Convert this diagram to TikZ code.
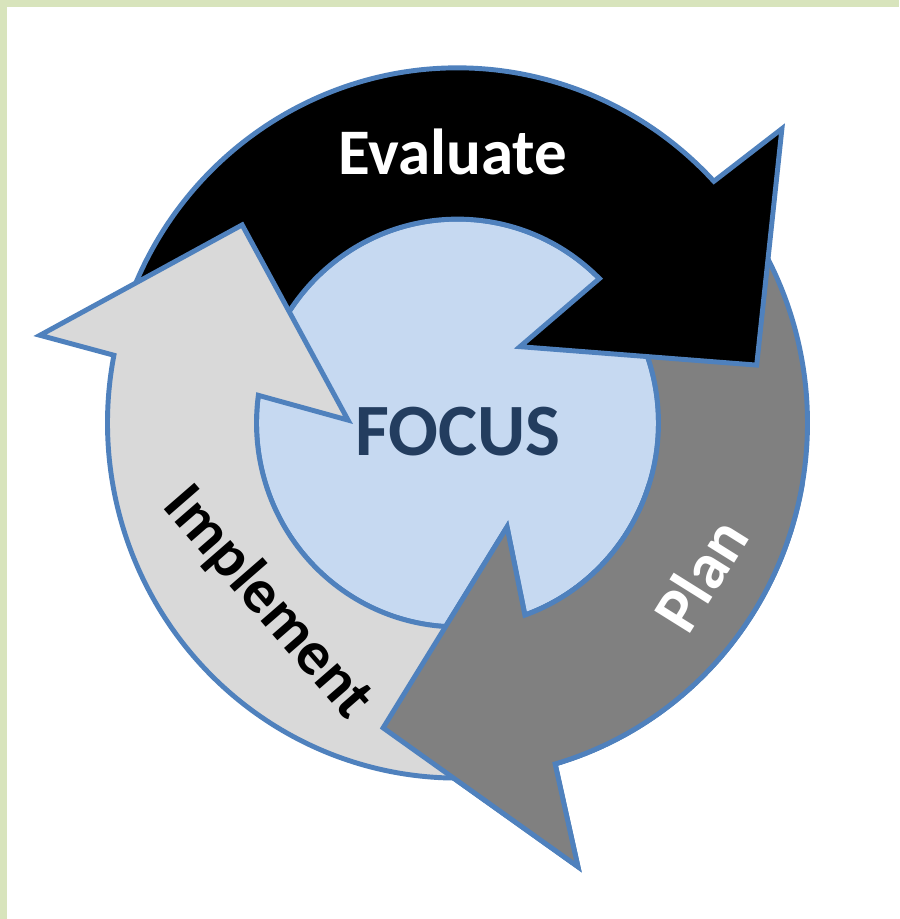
\documentclass[tikz,border=0pt]{standalone}
\usepackage{fontspec}
\setmainfont{Carlito}
\usepackage{tikz}
\definecolor{framegreen}{RGB}{216,228,188}
\definecolor{ringblue}{RGB}{79,129,189}
\definecolor{focusblue}{RGB}{198,217,241}
\definecolor{focustext}{RGB}{35,61,95}
\definecolor{plangray}{RGB}{128,128,128}
\definecolor{implgray}{RGB}{217,217,217}
\begin{document}
\begin{tikzpicture}[scale=0.02]
	\tikzstyle{every node}+=[inner sep=0pt]
	\tikzstyle{ring}=[draw=ringblue, line width=2.8pt]
	\tikzstyle{word}=[font=\bfseries\fontsize{37}{37}\selectfont]
	\useasboundingbox (-457.5,423) rectangle (441.5,-496);
	\fill [framegreen] (-457.5,423) rectangle (441.5,-496);
	\fill [white] (-450.5,416) rectangle (441.5,-496);
	\begin{scope}[yscale=1.015]
		\draw [ring, fill=focusblue] (0,0) circle (201);
		\draw [ring, fill=plangray] (32:350) arc (32:-73.8:350) -- (-74.6:453.7) -- (-103.9:309.6) -- (-64.2:113.8) -- (-70.4:201) arc (-70.4:32:201) -- cycle;
		\draw [ring, fill=black] (163:350) arc (163:42.9:350) -- (41.8:435.2) -- (10.8:304.6) -- (50.3:97.8) -- (45.1:201) arc (45.1:163:201) -- cycle;
		\draw [ring, fill=implgray] (280:350) arc (280:169:350) -- (168.3:426.4) -- (137.8:290.7) -- (178.5:109.5) -- (172.2:201) arc (172.2:280:201) -- cycle;
		\begin{scope}
			\clip (-460,-60) rectangle (460,-500);
			\draw [ring, fill=plangray] (32:350) arc (32:-73.8:350) -- (-74.6:453.7) -- (-103.9:309.6) -- (-64.2:113.8) -- (-70.4:201) arc (-70.4:32:201) -- cycle;
		\end{scope}
	\end{scope}
	\draw (-5,248) node (evaluate) [word, anchor=base, text=white] {Evaluate};
	\draw (0.5,-32) node (focus) [font=\bfseries\fontsize{42}{42}\selectfont, anchor=base, text=focustext] {FOCUS};
	\draw (243,-152) node (plan) [word, rotate=58, text=white] {Plan};
	\draw (-190,-180) node (implement) [word, font=\bfseries\fontsize{35.5}{35.5}\selectfont, rotate=-49] {Implement};
\end{tikzpicture}
\end{document}
